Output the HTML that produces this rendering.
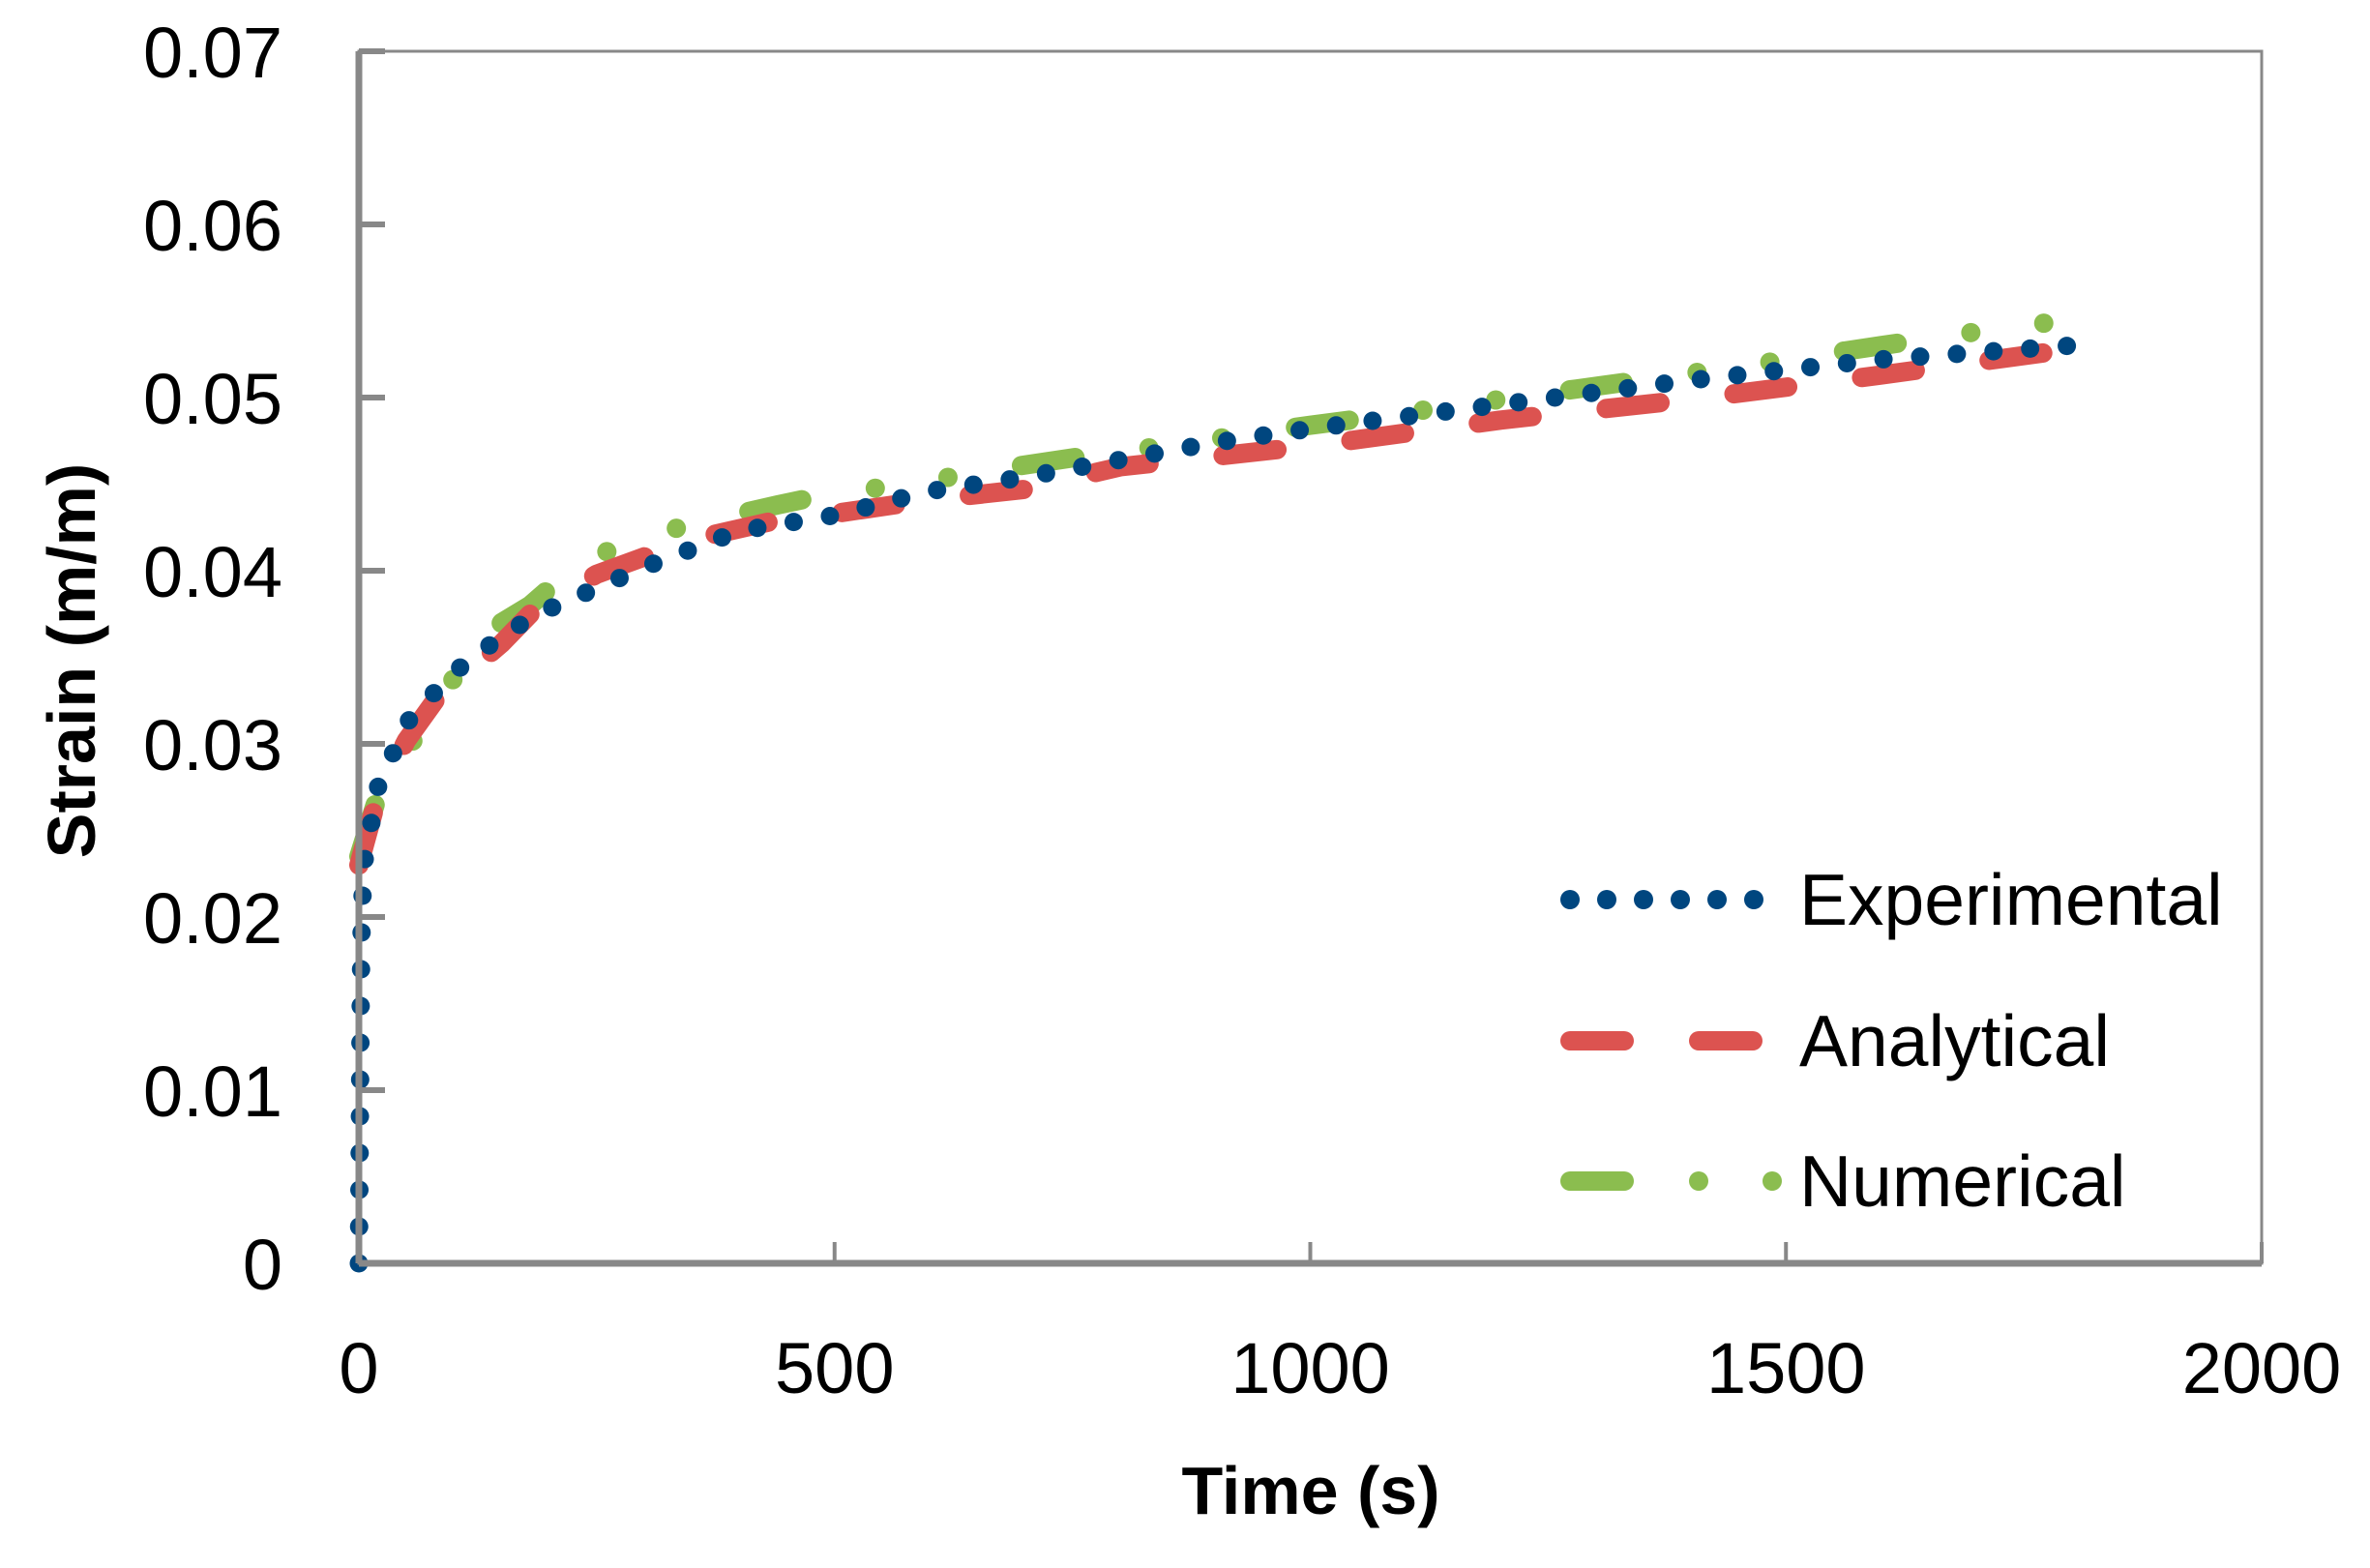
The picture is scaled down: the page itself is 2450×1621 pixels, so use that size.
<!DOCTYPE html>
<html><head><meta charset="utf-8"><style>
html,body{margin:0;padding:0;background:#fff}
svg{display:block}
text{font-family:"Liberation Sans",sans-serif;fill:#000}
</style></head><body>
<svg id="chart" width="2450" height="1621" viewBox="0 0 2450 1621" xmlns="http://www.w3.org/2000/svg">
<g id="grid"></g>
<g id="series"></g>
<g id="axes"></g>
<text x="0" y="0" transform="translate(98,683) rotate(-90)" text-anchor="middle" font-weight="bold" font-size="70">Strain (m/m)</text>
<text x="1355" y="1565" text-anchor="middle" font-weight="bold" font-size="70">Time (s)</text>
<g>
<line x1="1623" y1="930" x2="1814" y2="930" stroke="#00467F" stroke-width="20" stroke-linecap="round" stroke-dasharray="0 38"/>
<text x="1860" y="956" font-size="75">Experimental</text>
<line x1="1623" y1="1076" x2="1813" y2="1076" stroke="#DC5350" stroke-width="20" stroke-linecap="round" stroke-dasharray="56 77"/>
<text x="1860" y="1102" font-size="75">Analytical</text>
<line x1="1623" y1="1221" x2="1833" y2="1221" stroke="#8BBD4F" stroke-width="20" stroke-linecap="round" stroke-dasharray="56 77 0 76 0 200"/>
<text x="1860" y="1247" font-size="75">Numerical</text>
</g>
</svg>
<script>
const xTicks=[0,500,1000,1500,2000];
const yTicks=[0,0.01,0.02,0.03,0.04,0.05,0.06,0.07];
const yTickLabels=["0","0.01","0.02","0.03","0.04","0.05","0.06","0.07"];
const expT=[0,1,2,3,5,20,50,80,110,160,200,300,400,500,600,700,800,900,1000,1200,1400,1600,1800];
const expS=[0,0.008,0.016,0.02,0.023,0.0275,0.0312,0.033,0.0346,0.0366,0.0378,0.0402,0.0423,0.0432,0.0446,0.0454,0.0464,0.0474,0.0482,0.0496,0.051,0.0522,0.053];
const anaT=[0,20,50,80,150,180,250,350,430,500,600,700,800,1000,1200,1400,1600,1800];
const anaS=[0.023,0.027,0.0302,0.0325,0.0358,0.0375,0.0398,0.0418,0.0428,0.0433,0.0441,0.0447,0.046,0.0472,0.0487,0.0499,0.0513,0.0528];
const numT=[0,20,50,80,150,180,230,300,360,440,500,580,650,760,860,1000,1070,1200,1280,1400,1490,1600,1700,1800];
const numS=[0.0235,0.027,0.0295,0.0325,0.037,0.038,0.0404,0.042,0.0428,0.0438,0.0445,0.045,0.0457,0.0466,0.0473,0.0484,0.0489,0.0499,0.0505,0.0514,0.0521,0.053,0.0538,0.0545];
const X0=371,X1=2338,Y0=1306,Y1=53;
function sx(t){return X0+(t-0)/(2000-0)*(X1-X0);}
function sy(v){return Y0-(v-0)/(0.07-0)*(Y0-Y1);}
const NS="http://www.w3.org/2000/svg";
function mk(tag,attrs,parent){const e=document.createElementNS(NS,tag);for(const k in attrs)e.setAttribute(k,attrs[k]);parent.appendChild(e);return e;}
const axes=document.getElementById('axes');
const series=document.getElementById('series');
let f=mk('rect',{x:X0,y:Y1,width:X1-X0,height:Y0-Y1,fill:'none',stroke:'#888',"stroke-width":3},axes);


let ya=mk('line',{x1:X0,y1:Y1,x2:X0,y2:Y0,stroke:'#888',"stroke-width":7},axes);


let xa=mk('line',{x1:X0,y1:Y0,x2:X1,y2:Y0,stroke:'#888',"stroke-width":7},axes);


yTicks.forEach((v,i)=>{
 const y=sy(v);
 let t=mk('line',{x1:X0,y1:y,x2:X0+27,y2:y,stroke:'#888',"stroke-width":6},axes);
 
 
 let l=mk('text',{x:292,y:y+27,"text-anchor":'end',"font-size":74},axes);
 l.textContent=yTickLabels[i];
 
 
});
xTicks.forEach(v=>{
 const x=sx(v);
 let t=mk('line',{x1:x,y1:Y0,x2:x,y2:Y0-22,stroke:'#888',"stroke-width":4},axes);
 
 
 let l=mk('text',{x:x,y:1440,"text-anchor":'middle',"font-size":74},axes);
 l.textContent=String(v);
 
 
});
function path(T,S){return T.map((t,i)=>(i?'L':'M')+sx(t).toFixed(1)+' '+sy(S[i]).toFixed(1)).join(' ');}
let pn=mk('path',{d:path(numT,numS),fill:'none',stroke:'#8BBD4F',"stroke-width":20,"stroke-linecap":'round',"stroke-linejoin":'round',"stroke-dasharray":'56 77 0 76 0 77'},series);


let pa=mk('path',{d:path(anaT,anaS),fill:'none',stroke:'#DC5350',"stroke-width":20,"stroke-linecap":'round',"stroke-linejoin":'round',"stroke-dasharray":'56 77'},series);


let pe=mk('path',{d:path(expT,expS),fill:'none',stroke:'#00467F',"stroke-width":19,"stroke-linecap":'round',"stroke-linejoin":'round',"stroke-dasharray":'0 38'},series);


</script>
</body></html>
